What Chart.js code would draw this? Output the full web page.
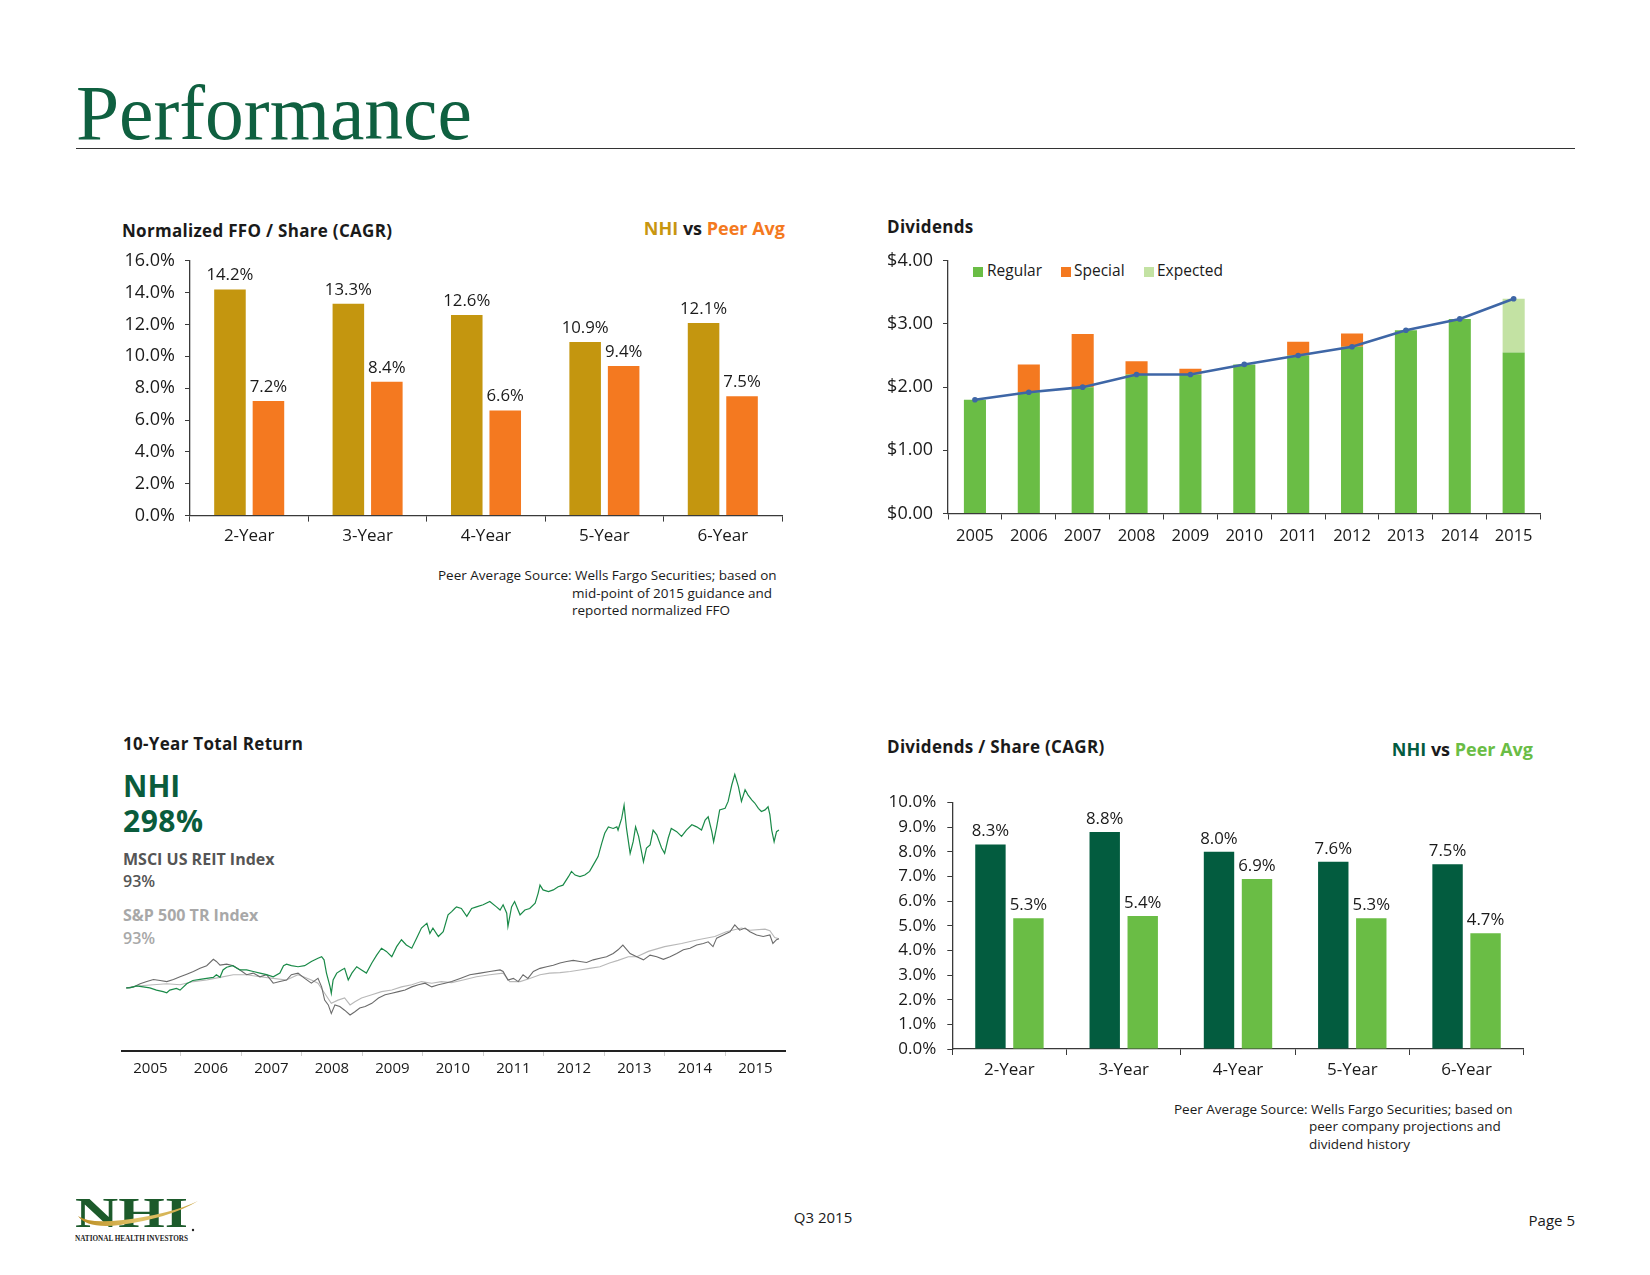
<!DOCTYPE html>
<html><head><meta charset="utf-8">
<script src="https://cdn.jsdelivr.net/npm/chart.js@4.4.1/dist/chart.umd.min.js"></script>
<style>
html,body{margin:0;padding:0;background:#fff;}
body{width:1650px;height:1275px;position:relative;overflow:hidden;font-family:"Open Sans",sans-serif;color:#1a1a1a;}
.t{position:absolute;white-space:nowrap;line-height:1;}
canvas{position:absolute;}
.b{font-weight:700;}
.sq{position:absolute;width:10px;height:10px;}
</style></head><body>

<div class="t" style="left:76px;top:75px;font-family:'Liberation Serif',serif;font-size:77.5px;color:#0f6040;">Performance</div>
<div style="position:absolute;left:76px;top:148px;width:1499px;height:1px;background:#333;"></div>

<!-- chart 1 texts -->
<div class="t b" style="left:122px;top:222px;font-size:17px;letter-spacing:0.3px;">Normalized FFO / Share (CAGR)</div>
<div class="t b" style="left:585px;width:200px;text-align:right;top:219px;font-size:18px;"><span style="color:#C8960F">NHI</span> vs <span style="color:#F47920">Peer Avg</span></div>
<div class="t" style="left:438px;top:567px;font-size:13.5px;line-height:17.5px;">Peer Average Source: Wells Fargo Securities; based on</div>
<div class="t" style="left:572px;top:584.5px;font-size:13.5px;line-height:17.5px;">mid-point of 2015 guidance and</div>
<div class="t" style="left:572px;top:602px;font-size:13.5px;line-height:17.5px;">reported normalized FFO</div>

<!-- chart 2 texts -->
<div class="t b" style="left:887px;top:218px;font-size:17px;letter-spacing:0.3px;">Dividends</div>
<div class="sq" style="left:973px;top:266.5px;background:#6ABD45"></div>
<div class="t" style="left:987px;top:263px;font-size:15.5px;">Regular</div>
<div class="sq" style="left:1061px;top:266.5px;background:#F47920"></div>
<div class="t" style="left:1074px;top:263px;font-size:15.5px;">Special</div>
<div class="sq" style="left:1144px;top:266.5px;background:#C3E2A3"></div>
<div class="t" style="left:1157px;top:263px;font-size:15.5px;">Expected</div>

<!-- chart 3 texts -->
<div class="t b" style="left:123px;top:735px;font-size:17px;letter-spacing:0.3px;">10-Year Total Return</div>
<div class="t b" style="left:123px;top:771px;font-size:30px;color:#0a5c3c;">NHI</div>
<div class="t b" style="left:123px;top:806px;font-size:30px;color:#0a5c3c;letter-spacing:0.5px;">298%</div>
<div class="t b" style="left:123px;top:851px;font-size:16px;color:#555;">MSCI US REIT Index</div>
<div class="t" style="left:123px;top:873px;font-size:16px;color:#555;font-weight:600;">93%</div>
<div class="t b" style="left:123px;top:907px;font-size:16px;color:#a8a8a8;">S&amp;P 500 TR Index</div>
<div class="t" style="left:123px;top:929.5px;font-size:16px;color:#a8a8a8;font-weight:600;">93%</div>

<!-- chart 4 texts -->
<div class="t b" style="left:887px;top:738px;font-size:17px;letter-spacing:0.3px;">Dividends / Share (CAGR)</div>
<div class="t b" style="left:1333px;width:200px;text-align:right;top:740px;font-size:18px;"><span style="color:#035C3F">NHI</span> vs <span style="color:#6ABD45">Peer Avg</span></div>
<div class="t" style="left:1174px;top:1101px;font-size:13.5px;line-height:17.5px;">Peer Average Source: Wells Fargo Securities; based on</div>
<div class="t" style="left:1309px;top:1118px;font-size:13.5px;line-height:17.5px;">peer company projections and</div>
<div class="t" style="left:1309px;top:1135.5px;font-size:13.5px;line-height:17.5px;">dividend history</div>

<!-- footer -->
<div class="t" style="left:723px;width:200px;text-align:center;top:1210px;font-size:15px;">Q3 2015</div>
<div class="t" style="left:1475px;width:100px;text-align:right;top:1213px;font-size:15px;">Page 5</div>
<svg style="position:absolute;left:75px;top:1196px;" width="132" height="50" viewBox="0 0 132 50">
  <defs><linearGradient id="gold" x1="0" x2="1" y1="0" y2="0">
    <stop offset="0" stop-color="#b88a1e"/><stop offset="0.5" stop-color="#e2c46a"/><stop offset="1" stop-color="#c9a441"/></linearGradient></defs>
  <text x="0" y="31" font-family="Liberation Serif, serif" font-weight="700" font-size="43" fill="#1c5a2b" textLength="113" lengthAdjust="spacingAndGlyphs">NHI</text>
  <path d="M3,20 Q12,33 45,29 Q95,22 123,5 Q96,18 48,24 Q14,28 3,20 Z" fill="url(#gold)"/>
  <text x="0" y="45" font-family="Liberation Serif, serif" font-weight="700" font-size="7.8" fill="#222" textLength="113" lengthAdjust="spacingAndGlyphs">NATIONAL HEALTH INVESTORS</text>
  <circle cx="118" cy="34" r="1.2" fill="#222"/>
</svg>

<canvas id="c1" width="700" height="320" style="left:100px;top:240px;width:700px;height:320px"></canvas>
<canvas id="c2" width="700" height="320" style="left:860px;top:240px;width:700px;height:320px"></canvas>
<canvas id="c3" width="700" height="340" style="left:100px;top:750px;width:700px;height:340px"></canvas>
<canvas id="c4" width="700" height="320" style="left:860px;top:780px;width:700px;height:320px"></canvas>

<script>
// ---------- DATA ----------
const ffoCats = ['2-Year','3-Year','4-Year','5-Year','6-Year'];
const ffoNHI  = [14.2, 13.3, 12.6, 10.9, 12.1];
const ffoPeer = [7.2, 8.4, 6.6, 9.4, 7.5];

const divYears    = ['2005','2006','2007','2008','2009','2010','2011','2012','2013','2014','2015'];
const divRegular  = [1.80, 1.92, 2.00, 2.20, 2.20, 2.36, 2.50, 2.64, 2.90, 3.08, 2.55];
const divSpecial  = [0, 0.44, 0.84, 0.21, 0.09, 0, 0.22, 0.21, 0, 0, 0];
const divExpected = [0, 0, 0, 0, 0, 0, 0, 0, 0, 0, 0.85];
const divTotalLine= [1.80, 1.92, 2.00, 2.20, 2.20, 2.36, 2.50, 2.64, 2.90, 3.08, 3.40];

const dpsCats = ['2-Year','3-Year','4-Year','5-Year','6-Year'];
const dpsNHI  = [8.3, 8.8, 8.0, 7.6, 7.5];
const dpsPeer = [5.3, 5.4, 6.9, 5.3, 4.7];

const trYearTicks = [2005,2006,2007,2008,2009,2010,2011,2012,2013,2014,2015];
const nhiX = [2004.60,2004.66,2004.77,2004.88,2004.99,2005.10,2005.21,2005.27,2005.32,2005.43,2005.49,2005.60,2005.70,2005.82,2005.93,2006.04,2006.09,2006.15,2006.20,2006.26,2006.36,2006.48,2006.59,2006.70,2006.81,2006.92,2007.03,2007.14,2007.20,2007.25,2007.33,2007.44,2007.55,2007.66,2007.77,2007.83,2007.87,2007.91,2007.97,2007.99,2008.02,2008.08,2008.16,2008.21,2008.27,2008.33,2008.41,2008.49,2008.57,2008.66,2008.74,2008.82,2008.90,2008.99,2009.07,2009.15,2009.23,2009.32,2009.40,2009.48,2009.57,2009.62,2009.67,2009.76,2009.84,2009.92,2009.98,2010.03,2010.06,2010.14,2010.23,2010.31,2010.39,2010.50,2010.61,2010.72,2010.78,2010.83,2010.89,2010.91,2010.97,2011.02,2011.11,2011.19,2011.27,2011.36,2011.41,2011.44,2011.49,2011.58,2011.66,2011.74,2011.82,2011.91,2011.96,2012.02,2012.10,2012.18,2012.26,2012.35,2012.40,2012.46,2012.51,2012.57,2012.65,2012.71,2012.73,2012.79,2012.83,2012.87,2012.93,2012.98,2013.02,2013.07,2013.15,2013.20,2013.26,2013.31,2013.37,2013.45,2013.50,2013.56,2013.61,2013.70,2013.78,2013.86,2013.95,2014.03,2014.11,2014.17,2014.22,2014.28,2014.31,2014.36,2014.41,2014.50,2014.55,2014.61,2014.66,2014.72,2014.77,2014.83,2014.88,2014.94,2014.99,2015.05,2015.10,2015.16,2015.21,2015.24,2015.27,2015.31,2015.35,2015.39];
const nhiY = [100,100,104,102,100,96,93,91,96,99,96,108,114,116,118,120,125,120,134,139,142,134,134,131,128,125,121,128,142,145,142,140,142,150,156,159,153,128,102,90,115,128,134,137,115,128,140,134,128,147,162,175,169,159,178,191,181,175,194,213,222,203,213,197,206,238,244,250,253,250,235,250,253,257,263,253,247,257,241,216,253,263,238,247,250,260,279,294,285,282,285,291,294,310,320,313,310,313,320,338,348,373,392,404,401,404,398,420,445,401,354,376,404,386,338,364,370,398,389,364,354,383,401,395,386,398,408,404,398,417,423,395,376,404,436,439,452,483,503,480,452,474,464,455,449,439,433,436,442,427,398,376,395,398];
const reitX = [2004.60,2004.72,2004.83,2004.94,2005.05,2005.16,2005.27,2005.38,2005.49,2005.60,2005.71,2005.82,2005.93,2006.04,2006.09,2006.15,2006.26,2006.37,2006.48,2006.59,2006.70,2006.81,2006.92,2007.03,2007.14,2007.25,2007.33,2007.44,2007.55,2007.66,2007.77,2007.83,2007.88,2007.94,2007.99,2008.05,2008.13,2008.21,2008.30,2008.38,2008.46,2008.55,2008.66,2008.77,2008.88,2008.99,2009.10,2009.21,2009.32,2009.43,2009.54,2009.65,2009.76,2009.87,2009.98,2010.12,2010.28,2010.45,2010.61,2010.78,2010.83,2010.91,2011.00,2011.08,2011.16,2011.24,2011.33,2011.44,2011.55,2011.66,2011.77,2011.88,2011.99,2012.10,2012.21,2012.32,2012.43,2012.54,2012.65,2012.73,2012.81,2012.93,2013.04,2013.15,2013.26,2013.37,2013.48,2013.59,2013.70,2013.81,2013.92,2014.03,2014.14,2014.22,2014.30,2014.36,2014.47,2014.58,2014.66,2014.74,2014.83,2014.91,2015.02,2015.13,2015.24,2015.29,2015.35,2015.39];
const reitY = [100,102,108,112,116,114,112,116,121,126,131,137,142,154,150,143,145,142,134,125,128,121,125,109,112,115,125,128,118,109,118,102,77,68,52,68,65,58,49,55,62,65,71,81,87,90,93,96,102,106,109,102,106,109,112,118,125,128,131,134,131,115,118,112,125,118,131,137,140,143,147,150,152,150,148,153,156,159,165,172,181,165,159,153,162,159,154,159,165,172,175,181,184,187,178,194,200,206,219,209,213,206,200,197,200,184,191,193];
const spX = [2004.60,2004.83,2005.05,2005.27,2005.49,2005.71,2005.93,2006.15,2006.37,2006.59,2006.81,2007.03,2007.25,2007.44,2007.66,2007.77,2007.88,2007.99,2008.10,2008.21,2008.30,2008.38,2008.49,2008.66,2008.82,2008.99,2009.15,2009.32,2009.48,2009.65,2009.81,2009.98,2010.17,2010.39,2010.61,2010.83,2010.94,2011.11,2011.27,2011.44,2011.60,2011.77,2011.94,2012.10,2012.26,2012.43,2012.59,2012.73,2012.90,2013.04,2013.23,2013.50,2013.78,2014.05,2014.33,2014.52,2014.77,2014.91,2015.16,2015.24,2015.32,2015.39];
const spY = [100,104,106,108,106,112,115,120,125,125,121,118,115,125,115,109,90,71,77,81,68,74,81,87,93,96,102,106,112,109,112,110,115,121,125,128,112,112,118,125,128,129,131,134,137,140,147,152,159,159,169,178,184,191,197,206,213,209,211,208,195,193];

// ---------- HELPERS ----------
const FONT = '"Open Sans", sans-serif';
const TXT = '#1a1a1a';
const AX = '#3a3a3a';

const barLabels = {
  id: 'barLabels',
  afterDatasetsDraw(chart, args, opts) {
    const ctx = chart.ctx;
    ctx.save();
    ctx.font = opts.size + 'px ' + FONT;
    ctx.fillStyle = TXT;
    ctx.textAlign = 'center';
    ctx.textBaseline = 'alphabetic';
    chart.data.datasets.forEach((ds, i) => {
      const meta = chart.getDatasetMeta(i);
      meta.data.forEach((el, j) => {
        ctx.fillText(ds.data[j].toFixed(1) + '%', el.x, el.y - opts.offset);
      });
    });
    ctx.restore();
  }
};

function groupedBar(canvasId, cats, a, b, colA, colB, cfg) {
  return new Chart(document.getElementById(canvasId), {
    type: 'bar',
    data: { labels: cats, datasets: [
      { data: a, backgroundColor: colA, categoryPercentage: cfg.catPct, barPercentage: cfg.barPct },
      { data: b, backgroundColor: colB, categoryPercentage: cfg.catPct, barPercentage: cfg.barPct }
    ]},
    plugins: [barLabels],
    options: {
      responsive: false, animation: false,
      layout: { autoPadding: false, padding: cfg.pad },
      plugins: { legend: { display: false }, tooltip: { enabled: false }, barLabels: { size: cfg.labelSize, offset: cfg.labelOffset } },
      scales: {
        x: {
          grid: { display: true, drawOnChartArea: false, drawTicks: true, tickLength: 6, color: AX, lineWidth: 1, offset: true },
          border: { display: true, color: AX, width: 1.3 },
          ticks: { color: TXT, font: { family: FONT, size: cfg.xFont }, padding: cfg.xPad, maxRotation: 0 },
          afterFit: s => { s.height = cfg.xH; }
        },
        y: {
          min: 0, max: cfg.yMax,
          grid: { display: true, drawOnChartArea: false, drawTicks: true, tickLength: 5, color: AX, lineWidth: 1 },
          border: { display: true, color: AX, width: 1.3 },
          ticks: { stepSize: cfg.yStep, color: TXT, font: { family: FONT, size: cfg.yFont }, padding: cfg.yPad, callback: v => v.toFixed(1) + '%' },
          afterFit: s => { s.width = cfg.yW; }
        }
      }
    }
  });
}

function build() {
  // Chart 1: Normalized FFO / Share (CAGR)
  groupedBar('c1', ffoCats, ffoNHI, ffoPeer, '#C4960F', '#F47920', {
    catPct: 0.65, barPct: 0.82, pad: { left: 0, right: 18, top: 18, bottom: 0 },
    labelSize: 16.8, labelOffset: 9, xFont: 17, xPad: 4, xH: 44.4,
    yMax: 16, yStep: 2, yFont: 18, yPad: 10, yW: 90
  });

  // Chart 4: Dividends / Share (CAGR)
  groupedBar('c4', dpsCats, dpsNHI, dpsPeer, '#035C3F', '#6ABD45', {
    catPct: 0.665, barPct: 0.80, pad: { left: 0, right: 36.3, top: 22.5, bottom: 0 },
    labelSize: 16.8, labelOffset: 8, xFont: 17, xPad: 5, xH: 51,
    yMax: 10, yStep: 1, yFont: 17, yPad: 11, yW: 92.3
  });

  // Chart 2: Dividends
  new Chart(document.getElementById('c2'), {
    type: 'bar',
    data: { labels: divYears, datasets: [
      { type: 'line', label: 'Total', data: divTotalLine, borderColor: '#3E66A6', backgroundColor: '#3E66A6',
        borderWidth: 2.6, pointRadius: 2.8, pointBackgroundColor: '#3E66A6', pointBorderWidth: 0, tension: 0, order: 0, stack: 'line' },
      { label: 'Regular', data: divRegular, backgroundColor: '#6ABD45', stack: 's', order: 1, categoryPercentage: 1, barPercentage: 0.41 },
      { label: 'Special', data: divSpecial, backgroundColor: '#F47920', stack: 's', order: 1, categoryPercentage: 1, barPercentage: 0.41 },
      { label: 'Expected', data: divExpected, backgroundColor: '#C3E2A3', stack: 's', order: 1, categoryPercentage: 1, barPercentage: 0.41 }
    ]},
    options: {
      responsive: false, animation: false,
      layout: { autoPadding: false, padding: { left: 0, right: 19.4, top: 17.5, bottom: 0 } },
      plugins: { legend: { display: false }, tooltip: { enabled: false } },
      scales: {
        x: {
          stacked: true,
          grid: { display: true, drawOnChartArea: false, drawTicks: true, tickLength: 6, color: AX, offset: true },
          border: { display: true, color: AX, width: 1.3 },
          ticks: { color: TXT, font: { family: FONT, size: 16.5 }, padding: 7, maxRotation: 0, autoSkip: false },
          afterFit: s => { s.height = 46.5; }
        },
        y: {
          stacked: true, min: 0, max: 4,
          grid: { display: true, drawOnChartArea: false, drawTicks: true, tickLength: 5, color: AX },
          border: { display: true, color: AX, width: 1.3 },
          ticks: { stepSize: 1, color: TXT, font: { family: FONT, size: 18 }, padding: 10, callback: v => '$' + v.toFixed(2) },
          afterFit: s => { s.width = 88; }
        }
      }
    }
  });

  // Chart 3: 10-Year Total Return
  const pts = (xs, ys) => xs.map((x, i) => ({ x: x, y: ys[i] }));
  new Chart(document.getElementById('c3'), {
    type: 'line',
    data: { datasets: [
      { label: 'NHI', data: pts(nhiX, nhiY), borderColor: '#1A8A48', borderWidth: 1.2, pointRadius: 0, tension: 0, order: 0 },
      { label: 'MSCI US REIT Index', data: pts(reitX, reitY), borderColor: '#6b6b6b', borderWidth: 1.1, pointRadius: 0, tension: 0, order: 1 },
      { label: 'S&P 500 TR Index', data: pts(spX, spY), borderColor: '#b8b8b8', borderWidth: 1.1, pointRadius: 0, tension: 0, order: 2 }
    ]},
    options: {
      responsive: false, animation: false,
      layout: { autoPadding: false, padding: { left: 22, right: 15, top: 15.4, bottom: 0 } },
      plugins: { legend: { display: false }, tooltip: { enabled: false } },
      scales: {
        x: {
          type: 'linear', min: 2004.53, max: 2015.49,
          afterBuildTicks: s => { s.ticks = trYearTicks.map(v => ({ value: v })); },
          grid: { display: true, drawOnChartArea: false, drawTicks: true, tickLength: 5, color: '#cfcfcf', offset: true },
          border: { display: true, color: '#222', width: 2 },
          ticks: { color: TXT, font: { family: FONT, size: 15 }, padding: 4, maxRotation: 0, autoSkip: false, includeBounds: false, callback: v => String(v) },
          afterFit: s => { s.height = 39; }
        },
        y: { display: false, min: -19, max: 520 }
      }
    }
  });
}

const ready = (document.fonts && document.fonts.load) ?
  Promise.all([document.fonts.load('16px "Open Sans"'), document.fonts.load('bold 16px "Open Sans"')]).catch(() => {}) :
  Promise.resolve();
ready.then(build);
</script>
</body></html>
